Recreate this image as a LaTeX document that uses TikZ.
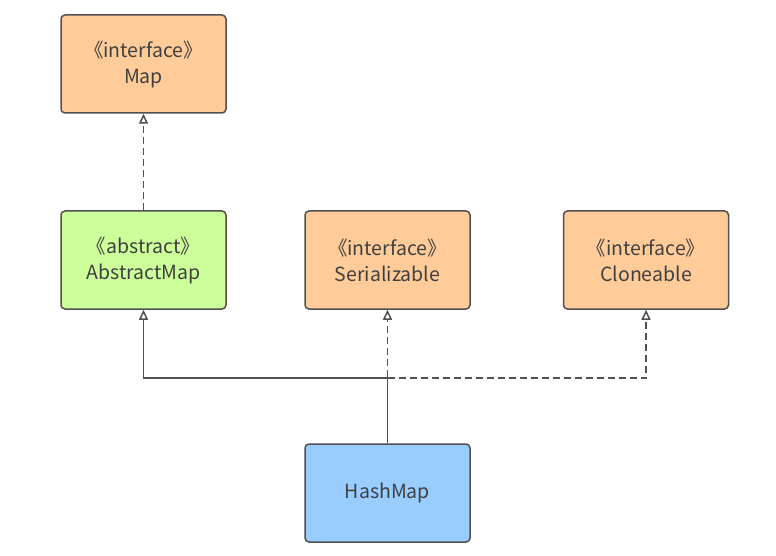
\documentclass[tikz,border=0pt]{standalone}
\usepackage{fontspec}
\newfontfamily\cjk{Noto Sans CJK SC}
\usetikzlibrary{arrows.meta}
\definecolor{ifc}{HTML}{FFCC99}
\definecolor{absc}{HTML}{CCFF99}
\definecolor{clsc}{HTML}{99CCFF}
\definecolor{edge}{HTML}{505050}
\definecolor{txt}{HTML}{404040}
\tikzset{
  umlbox/.style={draw=edge, line width=1.5pt, rounded corners=4pt, minimum width=165pt, minimum height=98pt,
    inner sep=0pt, align=center, font=\cjk\fontsize{19.5}{26}\selectfont, text=txt},
  ifbox/.style={umlbox, fill=ifc},
  absbox/.style={umlbox, fill=absc},
  clsbox/.style={umlbox, fill=clsc},
  conn/.style={draw=edge, line width=1.5pt, -{Triangle[open, length=10pt, width=9pt, fill=white]}},
  realize/.style={conn, dash pattern=on 7pt off 4pt},
}
\begin{document}
\begin{tikzpicture}[x=1pt, y=-1pt]
\useasboundingbox (0,0) rectangle (776,556);
\node[ifbox] (map) at (143.5,64) {《interface》\\Map};
\node[absbox] (amap) at (143.5,260) {《abstract》\\AbstractMap};
\node[ifbox] (ser) at (387.5,260) {《interface》\\Serializable};
\node[ifbox] (clo) at (646,260) {《interface》\\Cloneable};
\node[clsbox] (hm) at (387.5,493) {HashMap};
\coordinate (j) at (387.5,378);
\draw[realize] (amap.north) -- (map.south);
\draw[conn] (hm.north) -- (j) -| (amap.south);
\draw[realize] (hm.north) -- (ser.south);
\draw[realize] (j) -| (clo.south);
\end{tikzpicture}
\end{document}
